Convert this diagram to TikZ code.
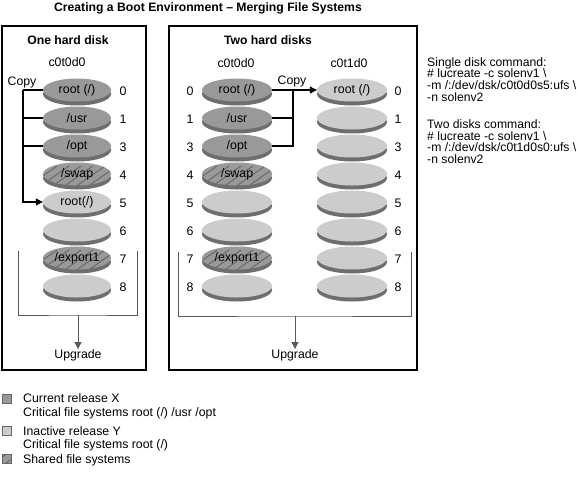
\documentclass[tikz,border=0pt]{standalone}
\usepackage{fontspec}
\setmainfont{Liberation Sans}
\usetikzlibrary{shapes.geometric,arrows.meta}
\definecolor{curgray}{HTML}{999999}
\definecolor{inagray}{HTML}{CCCCCC}
\definecolor{rimgray}{HTML}{6E6E6E}
\definecolor{hatchgray}{HTML}{5A5A5A}
\tikzset{
  disktop/.style={ellipse, minimum width=68pt, minimum height=23pt, inner sep=0pt, font=\fontsize{12.4}{13}\selectfont},
  diskrim/.style={ellipse, minimum width=68pt, minimum height=23pt, inner sep=0pt, fill=rimgray},
  cur/.style={fill=curgray},
  ina/.style={fill=inagray},
  hatchfill/.style={fill=curgray, path picture={
      \foreach \i in {-96,-84,...,96}{
        \draw[hatchgray, line width=0.7pt] ([xshift=\i pt, yshift=-20pt]path picture bounding box.center) -- ++(40pt,28pt);
      }}},
  shr/.style={hatchfill},
  num/.style={font=\fontsize{12.4}{13}\selectfont, inner sep=0pt},
  lbl/.style={font=\fontsize{12.3}{13}\selectfont, inner sep=0pt},
  head/.style={font=\bfseries\fontsize{12.2}{13}\selectfont, inner sep=0pt},
  copyline/.style={line width=1.1pt, black},
  brk/.style={line width=0.8pt, draw=black!65},
  arr/.style={-{Triangle[length=7pt,width=7pt]}},
  panel/.style={line width=1.3pt, draw=black},
  legsq/.style={draw=black!60, line width=0.6pt, minimum size=9pt, inner sep=0pt},
  cmd/.style={font=\fontsize{12.2}{11.7}\selectfont, inner sep=0pt, align=left, anchor=north west},
}
\newcommand\mydisk[6]{%
  \node[diskrim, minimum width=#4pt] at (#2,#3+4) {};
  \node[disktop, minimum width=#4pt, #5] (#1) at (#2,#3) {#6};
}
\begin{document}
\begin{tikzpicture}[x=1pt,y=-1pt]
\useasboundingbox (0,0) rectangle (578,485);
% title
\node[head] (title) at (208,8) {Creating a Boot Environment – Merging File Systems};
% panels
\draw[panel] (2,26) rectangle (146,370);
\draw[panel] (169,26) rectangle (417,370);
\node[head] (h1) at (68,40) {One hard disk};
\node[head] (h2) at (268,40) {Two hard disks};
\node[lbl] (d1) at (67,62) {c0t0d0};
\node[lbl] (d2) at (236,63) {c0t0d0};
\node[lbl] (d3) at (349,63) {c0t1d0};
% left panel disks
\mydisk{L0}{77}{90}{68}{cur}{root (/)}
\mydisk{L1}{77}{118}{68}{cur}{/usr}
\mydisk{L2}{77}{146}{68}{cur}{/opt}
\mydisk{L3}{77}{174}{68}{shr}{/swap}
\mydisk{L4}{77}{202}{68}{ina}{root(/)}
\mydisk{L5}{77}{230}{68}{ina}{}
\mydisk{L6}{77}{258}{68}{shr}{/export1}
\mydisk{L7}{77}{286}{68}{ina}{}
\node[num] (ln0) at (123,91) {0};
\node[num] (ln1) at (123,119) {1};
\node[num] (ln2) at (123,147) {3};
\node[num] (ln3) at (123,175) {4};
\node[num] (ln4) at (123,203) {5};
\node[num] (ln5) at (123,231) {6};
\node[num] (ln6) at (123,259) {7};
\node[num] (ln7) at (123,287) {8};
% left copy
\node[lbl] (copyL) at (22,82) {Copy};
\coordinate (cl) at (23,90);
\draw[copyline] (L0.west) -- (cl);
\draw[copyline] (L1.west) -- (L1.west -| cl);
\draw[copyline] (L2.west) -- (L2.west -| cl);
\draw[copyline, arr] (cl) |- (L4.west);
% left bracket and upgrade
\coordinate (lb1) at (18,251);
\coordinate (lb2) at (137,251);
\coordinate (lbm) at (78,315);
\draw[brk] (lb1) |- (lbm) -| (lb2);
\node[lbl] (upL) at (78,355) {Upgrade};
\draw[brk, arr] (lbm) -- (upL.north);
% right panel disks
\mydisk{R0}{237}{90}{70}{cur}{root (/)}
\mydisk{R1}{237}{118}{70}{cur}{/usr}
\mydisk{R2}{237}{146}{70}{cur}{/opt}
\mydisk{R3}{237}{174}{70}{shr}{/swap}
\mydisk{R4}{237}{202}{70}{ina}{}
\mydisk{R5}{237}{230}{70}{ina}{}
\mydisk{R6}{237}{258}{70}{shr}{/export1}
\mydisk{R7}{237}{286}{70}{ina}{}
\mydisk{S0}{352}{90}{70}{ina}{root (/)}
\mydisk{S1}{352}{118}{70}{ina}{}
\mydisk{S2}{352}{146}{70}{ina}{}
\mydisk{S3}{352}{174}{70}{ina}{}
\mydisk{S4}{352}{202}{70}{ina}{}
\mydisk{S5}{352}{230}{70}{ina}{}
\mydisk{S6}{352}{258}{70}{ina}{}
\mydisk{S7}{352}{286}{70}{ina}{}
\foreach \n/\t/\y in {0/0/91,1/1/119,2/3/147,3/4/175,4/5/203,5/6/231,6/7/259,7/8/287}{
  \node[num] (rn\n) at (190,\y) {\t};
  \node[num] (sn\n) at (398,\y) {\t};
}
% right copy
\node[lbl] (copyR) at (292,81) {Copy};
\coordinate (cr) at (293,90);
\draw[copyline, arr] (R0.east) -- (S0.west);
\draw[copyline] (R1.east) -- (R1.east -| cr);
\draw[copyline] (R2.east) -- (R2.east -| cr) -- (cr);
% right bracket and upgrade
\coordinate (rb1) at (178,252);
\coordinate (rb2) at (411,252);
\coordinate (rbm) at (295,316);
\draw[brk] (rb1) |- (rbm) -| (rb2);
\node[lbl] (upR) at (295,355) {Upgrade};
\draw[brk, arr] (rbm) -- (upR.north);
% commands
\node[cmd] (cmd1) at (427,57) {Single disk command:\\\# lucreate -c solenv1 \textbackslash\\-m /:/dev/dsk/c0t0d0s5:ufs \textbackslash\\-n solenv2};
\node[cmd] (cmd2) at (427,119.5) {Two disks command:\\\# lucreate -c solenv1 \textbackslash\\-m /:/dev/dsk/c0t1d0s0:ufs \textbackslash\\-n solenv2};
% legend
\node[legsq, fill=curgray] (k1) at (7,399) {};
\node[legsq, fill=inagray] (k2) at (7,431) {};
\node[legsq, hatchfill] (k3) at (7,459) {};
\node[lbl, anchor=west] (t1) at (23,398) {Current release X};
\node[lbl, anchor=west] (t1b) at (23,413) {Critical file systems root (/) /usr /opt};
\node[lbl, anchor=west] (t2) at (23,431) {Inactive release Y};
\node[lbl, anchor=west] (t2b) at (23,445) {Critical file systems root (/)};
\node[lbl, anchor=west] (t3) at (23,460) {Shared file systems};
\end{tikzpicture}
\end{document}
